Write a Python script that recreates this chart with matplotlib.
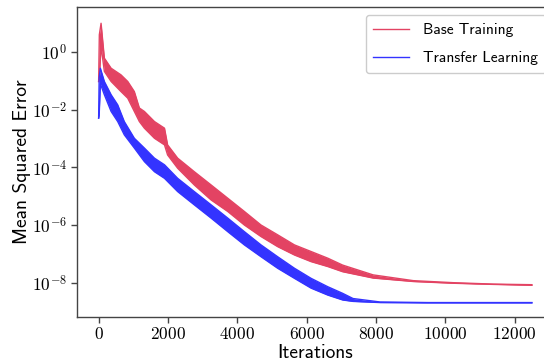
import numpy as np
import matplotlib
matplotlib.use('Agg')
import matplotlib.pyplot as plt
from matplotlib.ticker import FixedLocator, NullLocator

plt.rcParams['font.family'] = 'cmr10'
plt.rcParams['mathtext.fontset'] = 'cm'
plt.rcParams['axes.formatter.use_mathtext'] = True
plt.rcParams['axes.unicode_minus'] = False

# values: log10 of the upper / lower edge of each noisy band
base_iters = [0, 20, 70, 165, 360, 645, 840, 1030, 1175, 1320, 1610, 1900, 1990, 2280,
              2760, 3245, 3725, 4205, 4685, 5165, 5650, 6130, 6610, 7040, 7920, 9080,
              10230, 11390, 12500]
base_upper = [-1.02, 0.6, 1.0, -0.21, -0.56, -0.79, -1.02, -1.37, -1.94, -2.06, -2.41,
              -2.64, -3.22, -3.68, -4.15, -4.61, -5.07, -5.53, -6.0, -6.34, -6.69, -6.92,
              -7.15, -7.39, -7.73, -7.93, -8.0, -8.05, -8.07]
base_lower = [-1.02, -0.9, 0.2, -0.67, -1.02, -1.37, -1.6, -2.06, -2.41, -2.64, -2.99,
              -3.22, -3.57, -4.03, -4.61, -5.13, -5.53, -6.0, -6.4, -6.75, -7.04, -7.27,
              -7.44, -7.62, -7.84, -7.96, -8.02, -8.06, -8.09]

tl_iters = [0, 15, 50, 165, 360, 550, 740, 1030, 1320, 1610, 1900, 2280, 2760, 3245,
            3725, 4205, 4685, 5165, 5650, 6130, 6610, 7040, 7340, 8120, 9500, 12500]
tl_upper = [-2.29, -0.9, -0.56, -1.02, -1.48, -1.83, -2.41, -2.99, -3.33, -3.68, -3.91,
            -4.38, -4.84, -5.3, -5.76, -6.23, -6.69, -7.1, -7.5, -7.85, -8.14, -8.37,
            -8.55, -8.67, -8.69, -8.69]
tl_lower = [-2.29, -2.2, -1.1, -1.48, -2.06, -2.41, -2.87, -3.33, -3.8, -4.15, -4.38,
            -4.84, -5.3, -5.76, -6.23, -6.69, -7.1, -7.5, -7.85, -8.19, -8.43, -8.6,
            -8.65, -8.69, -8.7, -8.7]

series = [
    ('Base Training', base_iters, base_upper, base_lower, '#E34363'),
    ('Transfer Learning', tl_iters, tl_upper, tl_lower, '#3333FF'),
]

fig = plt.figure(figsize=(5.44, 3.63), dpi=100)
ax = fig.add_axes([0.1415, 0.1276, 0.876, 0.852])

for name, it, up, lo, col in series:
    up = 10.0 ** np.array(up)
    lo = 10.0 ** np.array(lo)
    ax.fill_between(it, lo, up, color=col, lw=0)
    ax.plot(it, up, color=col, lw=1.0, label=name)
    ax.plot(it, lo, color=col, lw=1.0)

ax.set_yscale('log')
ax.set_xlim(-625, 13125)
ax.set_ylim(10 ** -9.18, 10 ** 1.55)
ax.yaxis.set_major_locator(FixedLocator([1e-8, 1e-6, 1e-4, 1e-2, 1e0]))
ax.yaxis.set_minor_locator(NullLocator())
ax.set_xticks([0, 2000, 4000, 6000, 8000, 10000, 12000])

for s in ax.spines.values():
    s.set_color('#444444')
    s.set_linewidth(1.0)
ax.tick_params(colors='#444444', labelcolor='black', labelsize=12.5, length=4, width=1, pad=3)

ax.set_xlabel('Iterations', fontfamily='cmss10', fontsize=14, labelpad=1)
ax.set_ylabel('Mean Squared Error', fontfamily='cmss10', fontsize=14, labelpad=1)

leg = ax.legend(loc='upper right', prop={'family': 'cmss10', 'size': 11.2},
                framealpha=1, edgecolor='#cccccc', handlelength=2.3, handletextpad=0.88,
                labelspacing=0.9, borderpad=0.5)
for h in leg.get_lines():
    h.set_linewidth(1.0)

fig.savefig('out.png', dpi=100)
